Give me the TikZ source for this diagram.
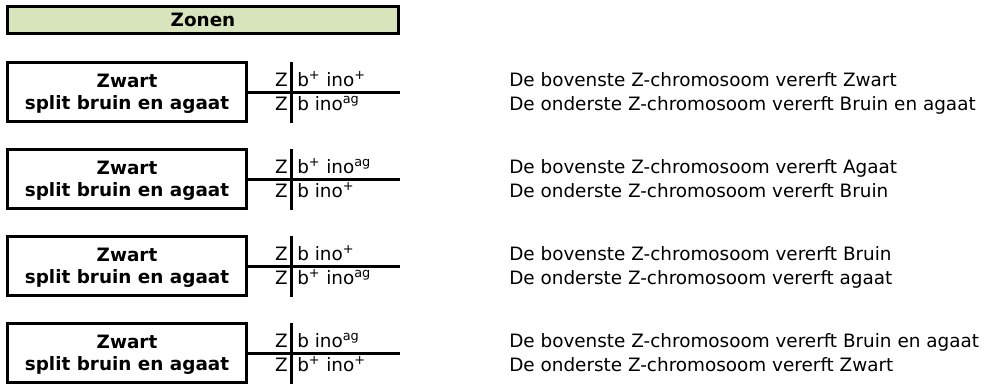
\documentclass[tikz,border=0pt]{standalone}
\usepackage{fontspec}
\setmainfont{DejaVu Sans}
\usetikzlibrary{positioning}

\definecolor{zonengroen}{HTML}{D8E4BC}
\newcommand{\supplus}{\textsuperscript{+}}
\newcommand{\supag}{\textsuperscript{ag}}

\tikzset{
  titelbalk/.style={draw, fill=zonengroen, line width=2.25pt,
    minimum width=293.25pt, minimum height=20.25pt, inner sep=0pt},
  zonebox/.style={draw, line width=2.25pt,
    minimum width=179.25pt, minimum height=44.6pt},
  kruis/.style={line width=2.25pt},
  tekst/.style={inner sep=0pt, anchor=base west},
  chrom/.style={inner sep=0pt, anchor=base east},
  midden/.style={inner sep=0pt, anchor=base}
}

\begin{document}
\begin{tikzpicture}[x=0.75pt, y=-0.75pt, font=\fontsize{13.8}{16}\selectfont]
    \useasboundingbox (0,0) rectangle (984,385);

    % Title bar
    \node[titelbalk] (zonen) at (203,20) {\bfseries Zonen};

    % One block per possible zone
    \foreach \i/\gtop/\gbot/\dtop/\dbot in {
        0/{b\supplus{} ino\supplus}/{b ino\supag}/{Zwart}/{Bruin en agaat},
        1/{b\supplus{} ino\supag}/{b ino\supplus}/{Agaat}/{Bruin},
        2/{b ino\supplus}/{b\supplus{} ino\supag}/{Bruin}/{agaat},
        3/{b ino\supag}/{b\supplus{} ino\supplus}/{Bruin en agaat}/{Zwart}}
    {
        \pgfmathsetmacro\y{62+87*\i}

        % Box with the phenotype
        \node[zonebox] (box\i) at (127,\y+30) {};
        \node[midden] (kleur\i) at (127,\y+25) {\bfseries Zwart};
        \node[midden] (split\i) at (127,\y+47) {\bfseries split bruin en agaat};

        % Chromosome cross
        \coordinate (eind\i) at (400,\y+30);
        \coordinate (boven\i) at (291,\y);
        \coordinate (onder\i) at (291,\y+61);
        \draw[kruis] (box\i.east) -- (eind\i);
        \draw[kruis] (boven\i) -- (onder\i);

        % Genotype
        \node[chrom] (zb\i) at (288,\y+24) {Z};
        \node[chrom] (zo\i) at (288,\y+48) {Z};
        \node[tekst] (gb\i) at (297,\y+24) {\gtop};
        \node[tekst] (go\i) at (297,\y+48) {\gbot};

        % Explanation
        \node[tekst] (db\i) at (509,\y+24) {De bovenste Z-chromosoom vererft \dtop};
        \node[tekst] (do\i) at (509,\y+48) {De onderste Z-chromosoom vererft \dbot};
    }
\end{tikzpicture}
\end{document}
